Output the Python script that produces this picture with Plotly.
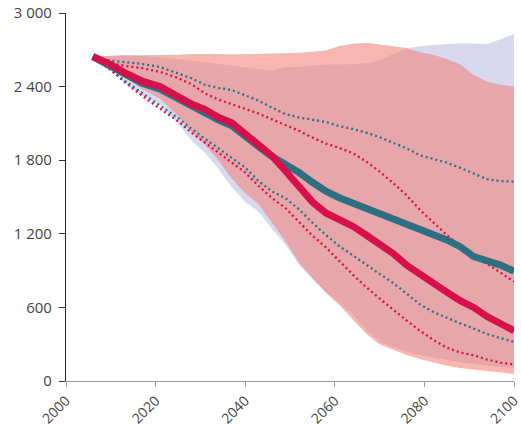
import plotly.graph_objects as go

years = [2006, 2010, 2013, 2017, 2021, 2025, 2028, 2031, 2034, 2037, 2040, 2043, 2046,
         2049, 2052, 2055, 2058, 2061, 2064, 2067, 2070, 2073, 2076, 2079, 2082, 2085,
         2088, 2091, 2094, 2097, 2100]

# Scenario A (teal)
blue_median = [2645, 2570, 2500, 2428, 2380, 2300, 2238, 2190, 2128, 2080, 1990, 1910, 1830,
               1770, 1700, 1620, 1548, 1494, 1450, 1405, 1370, 1330, 1287, 1243, 1200, 1150,
               1095, 1015, 980, 945, 895]
blue_q_high = [2645, 2612, 2600, 2585, 2560, 2510, 2468, 2415, 2390, 2372, 2330, 2285, 2228,
               2175, 2148, 2130, 2112, 2078, 2055, 2025, 1988, 1942, 1898, 1840, 1812, 1780,
               1738, 1693, 1645, 1630, 1625]
blue_q_low = [2645, 2540, 2450, 2345, 2245, 2145, 2055, 1975, 1897, 1820, 1740, 1630, 1545,
              1490, 1400, 1290, 1190, 1100, 1022, 945, 873, 800, 713, 625, 562, 513,
              470, 427, 383, 350, 318]
blue_max = [2645, 2650, 2655, 2650, 2640, 2625, 2612, 2600, 2585, 2570, 2555, 2540, 2530,
            2560, 2560, 2570, 2580, 2581, 2582, 2590, 2615, 2665, 2710, 2728, 2740, 2748,
            2752, 2752, 2745, 2785, 2830]
blue_min = [2645, 2560, 2430, 2330, 2255, 2100, 1960, 1860, 1730, 1580, 1460, 1380, 1240,
            1110, 950, 830, 725, 640, 545, 420, 321, 275, 240, 212, 190, 171,
            155, 138, 125, 113, 104]

# Scenario B (crimson)
red_median = [2645, 2580, 2515, 2445, 2400, 2315, 2258, 2215, 2150, 2105, 2012, 1930, 1835,
              1712, 1580, 1460, 1370, 1318, 1262, 1190, 1115, 1040, 945, 868, 800, 725,
              655, 600, 525, 465, 410]
red_q_high = [2645, 2590, 2570, 2550, 2520, 2470, 2420, 2345, 2295, 2256, 2220, 2180, 2133,
              2085, 2040, 1985, 1935, 1900, 1858, 1790, 1707, 1615, 1515, 1395, 1290, 1190,
              1095, 1012, 955, 880, 810]
red_q_low = [2645, 2535, 2440, 2325, 2220, 2118, 2025, 1945, 1858, 1778, 1700, 1590, 1490,
             1410, 1300, 1185, 1090, 978, 868, 765, 672, 582, 495, 410, 335, 272,
             232, 210, 175, 150, 135]
red_max = [2645, 2652, 2655, 2655, 2655, 2660, 2665, 2668, 2665, 2662, 2665, 2670, 2668,
           2672, 2676, 2684, 2695, 2730, 2750, 2757, 2745, 2728, 2715, 2680, 2660, 2625,
           2580, 2495, 2440, 2415, 2400]
red_min = [2645, 2580, 2480, 2380, 2300, 2160, 2030, 1925, 1800, 1650, 1530, 1440, 1290,
           1140, 965, 845, 720, 620, 505, 385, 300, 255, 215, 180, 150, 125,
           105, 88, 78, 68, 57]

x_ticks = [2000, 2020, 2040, 2060, 2080, 2100]
y_ticks = [0, 600, 1200, 1800, 2400, 3000]
y_ticktext = ["0", "600", "1 200", "1 800", "2 400", "3 000"]

TEAL = "#2f6f82"
CRIMSON = "#d5104a"

fig = go.Figure()


def band(upper, lower, color):
    fig.add_trace(go.Scatter(
        x=years + years[::-1], y=upper + lower[::-1],
        fill="toself", fillcolor=color, mode="lines",
        line=dict(width=0), hoverinfo="skip", showlegend=False))


band(blue_max, blue_min, "rgb(216,216,238)")
band(red_max, red_min, "rgba(242,134,124,0.6)")


def line(vals, color, width, dash="solid"):
    fig.add_trace(go.Scatter(
        x=years, y=vals, mode="lines",
        line=dict(color=color, width=width, dash=dash),
        hoverinfo="skip", showlegend=False))


line(red_q_high, CRIMSON, 2.3, "2px,3px")
line(red_q_low, CRIMSON, 2.3, "2px,3px")
line(blue_q_high, TEAL, 2.3, "2px,3px")
line(blue_q_low, TEAL, 2.3, "2px,3px")
line(blue_median, TEAL, 7)
line(red_median, CRIMSON, 7)

xfont = dict(family="Open Sans, sans-serif", size=14, color="#444")
yfont = dict(family="Open Sans, sans-serif", size=15, color="#444")

fig.update_layout(
    width=521, height=425,
    margin=dict(l=66, r=7, t=13, b=44),
    paper_bgcolor="white", plot_bgcolor="white",
    font=xfont,
    xaxis=dict(range=[2000, 2100], tickvals=x_ticks, tickangle=-45,
               showgrid=False, zeroline=False, showline=True, linecolor="#999",
               linewidth=1, ticks="outside", ticklen=5, tickcolor="#999",
               tickfont=xfont, automargin=False, ticklabeloverflow="allow"),
    yaxis=dict(range=[0, 3000], tickvals=y_ticks, ticktext=y_ticktext,
               showgrid=False, zeroline=False, showline=True, linecolor="#222",
               linewidth=1.2, ticks="outside", ticklen=6, tickcolor="#333",
               tickfont=yfont, automargin=False, ticklabelstandoff=4),
)

fig.write_html("out.html")
